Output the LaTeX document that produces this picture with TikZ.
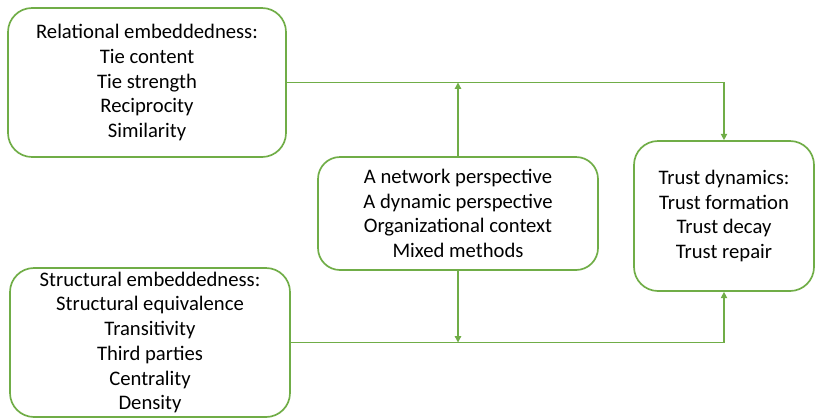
\documentclass[tikz,border=0pt]{standalone}
\usepackage{fontspec}
\setmainfont{Carlito}
\usepackage{xcolor}
\usepackage{tikz}
\usetikzlibrary{arrows.meta}
\definecolor{boxgreen}{HTML}{70AD47}

\begin{document}
\begin{tikzpicture}[
    box/.style={draw=boxgreen, line width=1.2pt, rounded corners=0.6cm,
        align=center, inner sep=2pt, font=\fontsize{14.7}{17.6}\selectfont},
    link/.style={draw=boxgreen, line width=0.9pt,
        -{Triangle[width=4.5pt,length=4.5pt]}}
]
    \useasboundingbox (0,0) rectangle (20.4,-10.475);
    % Embeddedness boxes on the left
    \node[box, minimum width=6.95cm, minimum height=3.725cm] (rel) at (3.675,-2.0625)
        {Relational embeddedness:\\Tie content\\Tie strength\\Reciprocity\\Similarity};
    \node[box, minimum width=7cm, minimum height=3.725cm] (struct) at (3.75,-8.5625)
        {Structural embeddedness:\\Structural equivalence\\Transitivity\\Third parties\\Centrality\\Density};
    % Perspectives in the middle
    \node[box, rounded corners=0.55cm, minimum width=7cm, minimum height=2.825cm] (persp) at (11.45,-5.3375)
        {A network perspective\\A dynamic perspective\\Organizational context\\Mixed methods};
    % Outcome on the right
    \node[box, minimum width=4.5cm, minimum height=3.75cm] (trust) at (18.1,-5.4)
        {Trust dynamics:\\Trust formation\\Trust decay\\Trust repair};

    \draw[link] (rel.east) -| (trust.north);
    \draw[link] (struct.east) -| (trust.south);
    \draw[link] (persp.north) -- (persp.north |- rel.east);
    \draw[link] (persp.south) -- (persp.south |- struct.east);
\end{tikzpicture}
\end{document}
